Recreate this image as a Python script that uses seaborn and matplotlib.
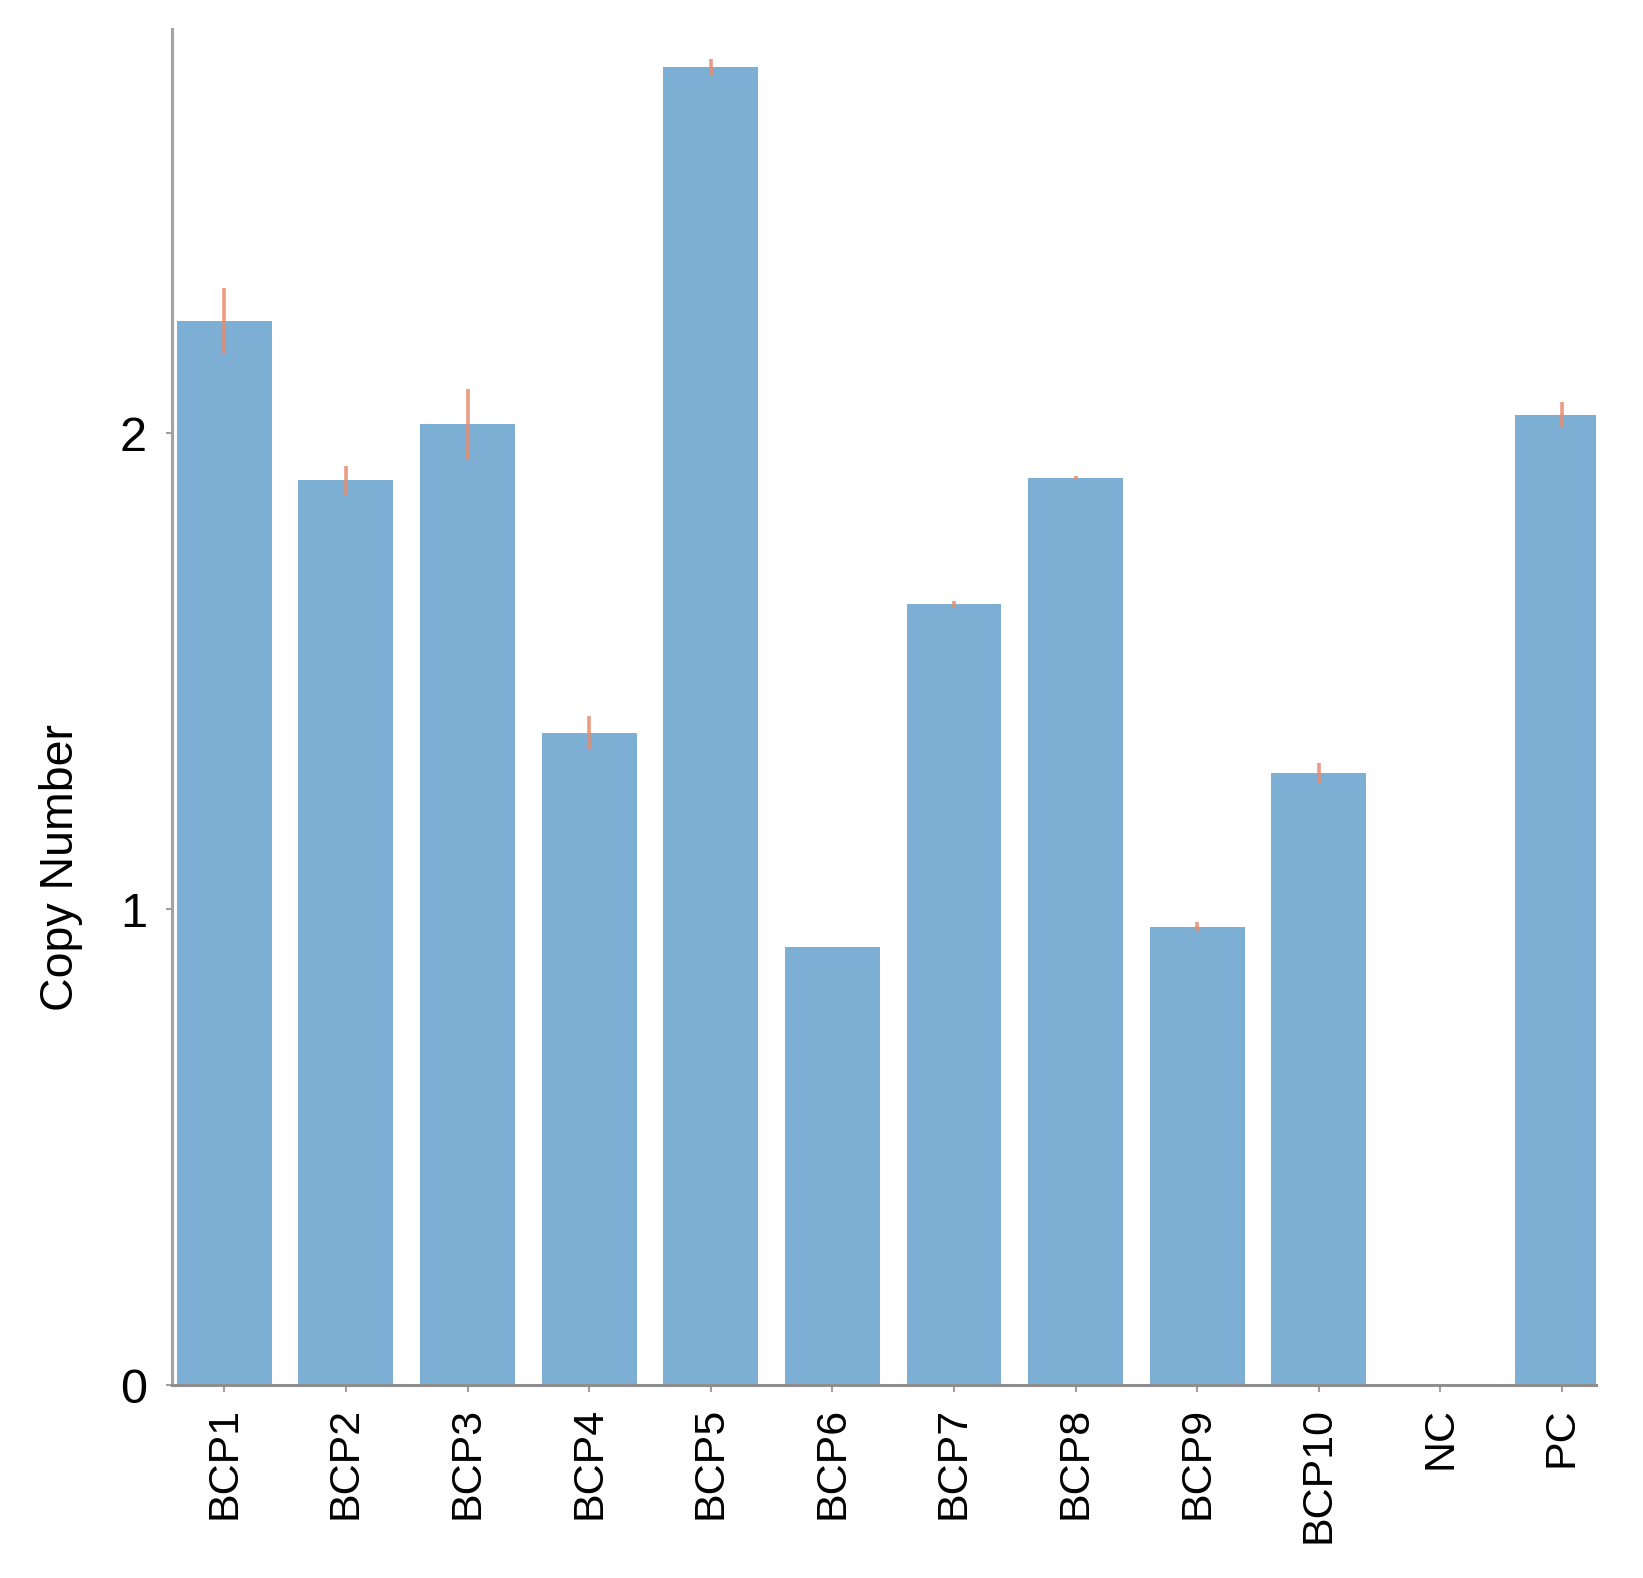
import matplotlib
matplotlib.use("Agg")
import matplotlib.pyplot as plt
import seaborn as sns
import pandas as pd

categories = ["BCP1", "BCP2", "BCP3", "BCP4", "BCP5", "BCP6", "BCP7",
              "BCP8", "BCP9", "BCP10", "NC", "PC"]
copy_number = [2.236, 1.901, 2.019, 1.370, 2.770, 0.921, 1.641,
               1.905, 0.963, 1.286, 0.0, 2.038]
copy_err = [0.068, 0.03, 0.074, 0.035, 0.017, 0.0, 0.006,
            0.004, 0.009, 0.021, 0.0, 0.028]
y_ticks = [0, 1, 2]

df = pd.DataFrame({"Sample": categories, "Copy Number": copy_number})

sns.set_theme(style="white")
plt.rcParams["font.family"] = ["Liberation Sans", "DejaVu Sans"]

fig = plt.figure(figsize=(16.43, 15.78), dpi=100)
ax = fig.add_axes([0.1047, 0.1223, 0.8667, 0.8593])

bar_color = "#7DAED3"
sns.barplot(data=df, x="Sample", y="Copy Number", color=bar_color,
            saturation=1, width=0.78, errorbar=None, ax=ax,
            edgecolor="none", linewidth=0, zorder=2)

xpos = list(range(len(categories)))
ax.errorbar(xpos, copy_number, yerr=copy_err, fmt="none",
            ecolor="#E98B6E", elinewidth=2.6, capsize=0, alpha=0.85, zorder=3)

ax.set_xlim(-0.43, 11.28)
ax.set_ylim(0, 2.849)
ax.set_yticks(y_ticks)
ax.set_yticklabels([str(t) for t in y_ticks])

for s in ["top", "right"]:
    ax.spines[s].set_visible(False)
ax.spines["left"].set_color("#A3A3A3")
ax.spines["left"].set_linewidth(2.2)
ax.spines["bottom"].set_color("#8E8E8E")
ax.spines["bottom"].set_linewidth(2.2)

ax.tick_params(axis="x", which="both", bottom=True, length=5, width=1.5,
               color="#A0A0A0", pad=11, labelsize=31, labelcolor="black")
ax.tick_params(axis="y", which="both", left=True, length=4, width=1.5,
               color="#A0A0A0", pad=14, labelsize=35, labelcolor="black")

for lbl in ax.get_xticklabels():
    lbl.set_rotation(90)
    lbl.set_va("top")
    lbl.set_ha("center")

ax.set_xlabel("")
ax.set_ylabel("Copy Number", fontsize=33.5, color="black")
ax.yaxis.set_label_coords(-0.0625, 0.382)

fig.savefig("out.png", dpi=100, facecolor="white")
